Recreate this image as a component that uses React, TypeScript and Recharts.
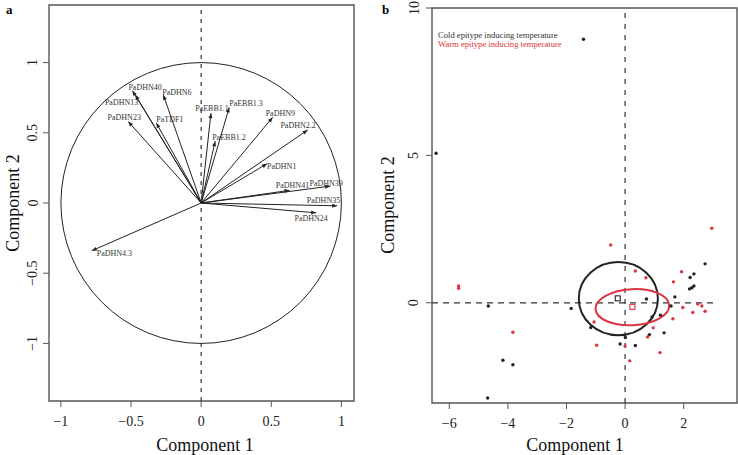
import {
  Label,
  ReferenceArea,
  ReferenceDot,
  ReferenceLine,
  Scatter,
  ScatterChart,
  XAxis,
  YAxis,
} from "recharts";

// ---- panel a: loadings (correlation circle)
const loadingNames = [
  "PaDHN40", "PaDHN13", "PaDHN6", "PaDHN23", "PaTDF1", "PaEBB1.1", "PaEBB1.3", "PaEBB1.2",
  "PaDHN9", "PaDHN2.2", "PaDHN1", "PaDHN41", "PaDHN39", "PaDHN35", "PaDHN24", "PaDHN4.3",
];
const loadingX = [-0.49, -0.47, -0.27, -0.52, -0.32, 0.07, 0.2, 0.1, 0.51, 0.76, 0.47, 0.63, 0.92, 0.97, 0.82, -0.78];
const loadingY = [0.8, 0.77, 0.77, 0.58, 0.57, 0.64, 0.68, 0.44, 0.61, 0.52, 0.28, 0.09, 0.12, -0.02, -0.07, -0.34];
const aTicks = [-1, -0.5, 0, 0.5, 1];

// ---- panel b: scores
const coldX = [-6.45, -1.42, -4.67, -1.84, -4.17, -3.83, -4.69, -1.17, 0.01, -0.17, 0.35, 0.73, 0.92, 1.21, 0.83, 1.33, 1.57, 1.7, 2.22, 2.35, 2.2, 2.28, 2.35, 2.73];
const coldY = [5.07, 8.94, -0.11, -0.19, -1.95, -2.1, -3.23, -0.84, -1.18, -1.4, -1.45, 0.13, -0.48, -0.42, -1.08, -1.02, -0.11, 0.2, 0.86, 0.98, 0.47, 0.51, 0.57, 1.32];
const warmX = [-5.68, -5.68, -3.83, -0.49, 0.35, 0.71, -1.06, -0.97, 0.0, 0.16, 0.96, 0.77, 1.19, 1.63, 1.65, 1.93, 1.97, 2.31, 2.48, 2.62, 2.73, 2.96];
const warmY = [0.57, 0.49, -1.0, 1.96, 1.08, 0.85, -0.65, -1.44, -1.47, -1.97, -0.85, -1.16, -1.69, -0.54, 0.71, 1.05, -0.16, -0.33, -0.04, -0.11, -0.29, 2.53];
const coldCentre = { x: -0.25, y: 0.15 };
const warmCentre = { x: 0.25, y: -0.14 };
// ellipse centre + semi axes (data units)
const coldEllipse = { x: -0.23, y: 0.14, rx: 1.35, ry: 1.24 };
const warmEllipse = { x: 0.25, y: -0.15, rx: 1.26, ry: 0.61 };
const bXTicks = [-6, -4, -2, 0, 2];
const bYTicks = [0, 5, 10];

const FONT = "'Liberation Serif', 'Times New Roman', serif";
const INK = "#222";
const RED = "#dc3540";
const BOX = "#555";

// label placement next to arrow tips: [anchor, dx, dy]
const labelPos: Record<string, [string, number, number]> = {
  PaDHN40: ["start", -4, -3],
  PaDHN13: ["end", 3, 8],
  PaDHN6: ["start", -1, -2],
  PaDHN23: ["middle", -4, -4],
  PaTDF1: ["start", 0, -3],
  "PaEBB1.1": ["middle", 1, -5],
  "PaEBB1.3": ["start", 0, -4],
  "PaEBB1.2": ["start", -3, -4],
  PaDHN9: ["start", -7, -4],
  "PaDHN2.2": ["end", 8, -4],
  PaDHN1: ["start", 0, 3],
  PaDHN41: ["middle", 3, -5],
  PaDHN39: ["middle", -4, -3],
  PaDHN35: ["end", 3, -5],
  PaDHN24: ["middle", -5, 6],
  "PaDHN4.3": ["start", 5, 3],
};

const A_W = 370;
const A_H = 455;
const A_MARGIN = { top: 5, right: 16, bottom: 0, left: 0 };
const A_YW = 49;
const A_XH = 54;
const A_XD: [number, number] = [-1.085, 1.09];
const A_YD: [number, number] = [-1.41, 1.41];
const A_PX_X = (A_W - A_YW - A_MARGIN.right) / (A_XD[1] - A_XD[0]);
const A_PX_Y = (A_H - A_MARGIN.top - A_XH) / (A_YD[1] - A_YD[0]);

const B_W = 368;
const B_H = 455;
const B_MARGIN = { top: 8, right: 1, bottom: 0, left: 0 };
const B_YW = 62;
const B_XH = 52;
const B_XD: [number, number] = [-6.59, 3.82];
const B_YD: [number, number] = [-3.4, 10];
const B_PX_X = (B_W - B_YW - B_MARGIN.right) / (B_XD[1] - B_XD[0]);
const B_PX_Y = (B_H - B_MARGIN.top - B_XH) / (B_YD[1] - B_YD[0]);

const fmt = (v: number) => (v < 0 ? "\u2212" + Math.abs(v) : String(v));

const tipData = loadingNames.map((name, i) => ({ name, x: loadingX[i], y: loadingY[i] }));
const coldData = coldX.map((x, i) => ({ x, y: coldY[i] }));
const warmData = warmX.map((x, i) => ({ x, y: warmY[i] }));

function XTick({ x, y, payload }: any) {
  return (
    <text x={x} y={y + 17} textAnchor="middle" fontSize={14} fontFamily={FONT} fill={INK}>
      {fmt(payload.value)}
    </text>
  );
}

function makeYTick(shift: number) {
  return function YTick({ x, y, payload }: any) {
    const cx = x - shift;
    return (
      <text
        x={cx}
        y={y}
        transform={`rotate(-90 ${cx} ${y})`}
        textAnchor="middle"
        dominantBaseline="central"
        fontSize={14}
        fontFamily={FONT}
        fill={INK}
      >
        {fmt(payload.value)}
      </text>
    );
  };
}

function Arrow({ x1, y1, x2, y2 }: any) {
  const ang = Math.atan2(y2 - y1, x2 - x1);
  const bx = x2 - 5 * Math.cos(ang);
  const by = y2 - 5 * Math.sin(ang);
  const px = -Math.sin(ang) * 2;
  const py = Math.cos(ang) * 2;
  return (
    <g>
      <line x1={x1} y1={y1} x2={x2} y2={y2} stroke={INK} strokeWidth={1} />
      <polygon points={`${x2},${y2} ${bx + px},${by + py} ${bx - px},${by - py}`} fill={INK} />
    </g>
  );
}

function TipLabel({ cx, cy, payload }: any) {
  const [anchor, dx, dy] = labelPos[payload.name] ?? ["start", 0, 0];
  return (
    <text
      x={cx + dx}
      y={cy + dy}
      textAnchor={anchor as any}
      dominantBaseline="central"
      fontSize={8}
      fontFamily={FONT}
      fill="#333"
      opacity={0.99}
    >
      {payload.name}
    </text>
  );
}

const Dot = (color: string) => (p: any) => <circle cx={p.cx} cy={p.cy} r={1.7} fill={color} />;
const Square = (color: string) => (p: any) => (
  <rect x={p.cx - 2.5} y={p.cy - 2.5} width={5} height={5} fill="white" stroke={color} strokeWidth={1.1} />
);

function axisTitle(x: number, y: number, text: string, rotate = false) {
  return () => (
    <text
      x={x}
      y={y}
      transform={rotate ? `rotate(-90 ${x} ${y})` : undefined}
      textAnchor="middle"
      fontSize={18}
      fontFamily={FONT}
      fill="#111"
    >
      {text}
    </text>
  );
}

function PanelA() {
  return (
    <ScatterChart width={A_W} height={A_H} margin={A_MARGIN}>
      <XAxis
        type="number"
        dataKey="x"
        domain={A_XD}
        allowDataOverflow
        ticks={aTicks}
        interval={0}
        height={A_XH}
        axisLine={false}
        tickLine={{ stroke: BOX }}
        tickSize={6}
        tick={XTick}
      >
        <Label content={axisTitle(205, 451, "Component 1")} />
      </XAxis>
      <YAxis
        type="number"
        dataKey="y"
        domain={A_YD}
        allowDataOverflow
        ticks={aTicks}
        interval={0}
        width={A_YW}
        axisLine={false}
        tickLine={{ stroke: BOX }}
        tickSize={6}
        tick={makeYTick(8)}
      >
        <Label content={axisTitle(19, 203, "Component 2", true)} />
      </YAxis>
      <ReferenceArea x1={A_XD[0]} x2={A_XD[1]} y1={A_YD[0]} y2={A_YD[1]} fill="none" stroke={BOX} strokeWidth={1.4} />
      <ReferenceLine x={0} stroke="#333" strokeDasharray="4 5" strokeWidth={1.2} />
      <ReferenceDot
        x={0}
        y={0}
        shape={(p: any) => (
          <ellipse cx={p.cx} cy={p.cy} rx={A_PX_X} ry={A_PX_Y} fill="none" stroke={INK} strokeWidth={1} />
        )}
      />
      {tipData.map((d) => (
        <ReferenceLine
          key={d.name}
          segment={[
            { x: 0, y: 0 },
            { x: d.x, y: d.y },
          ]}
          shape={Arrow}
        />
      ))}
      <Scatter data={tipData} shape={TipLabel} isAnimationActive={false} />
    </ScatterChart>
  );
}

function ellipseShape(e: { rx: number; ry: number }, color: string, tilt: number) {
  return (p: any) => (
    <ellipse
      cx={p.cx}
      cy={p.cy}
      rx={e.rx * B_PX_X}
      ry={e.ry * B_PX_Y}
      transform={`rotate(${tilt} ${p.cx} ${p.cy})`}
      fill="none"
      stroke={color}
      strokeWidth={2}
    />
  );
}

function PanelB() {
  return (
    <ScatterChart width={B_W} height={B_H} margin={B_MARGIN}>
      <XAxis
        type="number"
        dataKey="x"
        domain={B_XD}
        allowDataOverflow
        ticks={bXTicks}
        interval={0}
        height={B_XH}
        axisLine={false}
        tickLine={{ stroke: BOX }}
        tickSize={6}
        tick={XTick}
      >
        <Label content={axisTitle(205, 451, "Component 1")} />
      </XAxis>
      <YAxis
        type="number"
        dataKey="y"
        domain={B_YD}
        allowDataOverflow
        ticks={bYTicks}
        interval={0}
        width={B_YW}
        axisLine={false}
        tickLine={{ stroke: BOX }}
        tickSize={6}
        tick={makeYTick(10)}
      >
        <Label content={axisTitle(24, 205, "Component 2", true)} />
      </YAxis>
      <ReferenceArea x1={B_XD[0]} x2={B_XD[1]} y1={B_YD[0]} y2={B_YD[1]} fill="none" stroke={BOX} strokeWidth={1.4} />
      <ReferenceLine x={0} stroke="#333" strokeDasharray="5 6" strokeWidth={1.2} />
      <ReferenceLine
        segment={[
          { x: B_XD[0], y: 0 },
          { x: 3.05, y: 0 },
        ]}
        stroke="#333"
        strokeDasharray="6 5"
        strokeWidth={1.2}
      />
      <ReferenceDot x={coldEllipse.x} y={coldEllipse.y} shape={ellipseShape(coldEllipse, INK, 0)} />
      <ReferenceDot x={warmEllipse.x} y={warmEllipse.y} shape={ellipseShape(warmEllipse, RED, -3)} />
      <Scatter data={coldData} shape={Dot(INK)} isAnimationActive={false} />
      <Scatter data={warmData} shape={Dot(RED)} isAnimationActive={false} />
      <Scatter data={[coldCentre]} shape={Square(INK)} isAnimationActive={false} />
      <Scatter data={[warmCentre]} shape={Square(RED)} isAnimationActive={false} />
    </ScatterChart>
  );
}

export default function App() {
  return (
    <div style={{ position: "relative", width: 738, height: 455, background: "white", fontFamily: FONT }}>
      <style>{`body{margin:0}`}</style>
      <div style={{ position: "absolute", left: 0, top: 0 }}>
        <PanelA />
      </div>
      <div style={{ position: "absolute", left: 370, top: 0 }}>
        <PanelB />
      </div>
      <div style={{ position: "absolute", left: 6, top: 2, fontSize: 13, fontWeight: "bold" }}>a</div>
      <div style={{ position: "absolute", left: 382, top: 2, fontSize: 13, fontWeight: "bold" }}>b</div>
      <div style={{ position: "absolute", left: 438, top: 31, fontSize: 8.6, lineHeight: "9px", whiteSpace: "nowrap" }}>
        <div style={{ color: "#333" }}>Cold epitype inducing temperature</div>
        <div style={{ color: RED }}>Warm epitype inducing temperature</div>
      </div>
    </div>
  );
}
